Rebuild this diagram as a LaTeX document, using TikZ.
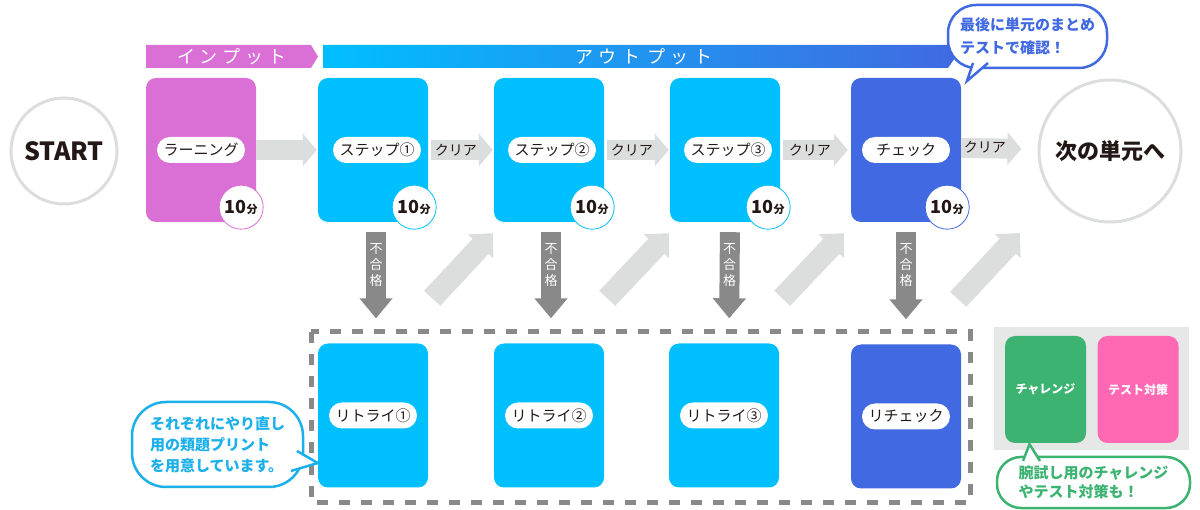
\documentclass[tikz,border=0pt]{standalone}
\usepackage{fontspec}
\setmainfont{Noto Sans CJK JP}
\usetikzlibrary{arrows.meta}

\definecolor{orchidc}{HTML}{DA70D6}
\definecolor{skyc}{HTML}{00BFFF}
\definecolor{royalc}{HTML}{4169E1}
\definecolor{greenc}{HTML}{3CB371}
\definecolor{pinkc}{HTML}{FF69B4}
\definecolor{lightg}{HTML}{DCDDDD}
\definecolor{darkg}{HTML}{898989}
\definecolor{panelg}{HTML}{E6E7E7}
\definecolor{ink}{HTML}{231815}
\definecolor{bullesky}{HTML}{1CB0EA}

\newcommand{\dixmin}{{\fontsize{18}{18}\selectfont\bfseries 10}{\fontsize{11}{11}\selectfont\bfseries 分}}

\tikzset{
  carte/.style={rounded corners=10pt, minimum width=110pt, minimum height=144pt, inner sep=0pt, fill=#1},
  pilule/.style={fill=white, rounded corners=13pt, minimum width=88pt, minimum height=26pt, inner sep=0pt, text=ink, font=\fontsize{15}{17}\selectfont},
  duree/.style={circle, fill=white, draw=#1, line width=0.8pt, minimum size=44pt, inner sep=0pt, text=ink},
  rond/.style={circle, draw=lightg, line width=3pt, fill=white, text=ink, inner sep=0pt},
  avance/.style={lightg, line width=20pt, -{Triangle[length=14pt,width=32pt]}},
  echec/.style={darkg, line width=20pt, -{Triangle[length=20pt,width=32pt]}, shorten <=10pt, shorten >=25pt},
  retour/.style={lightg, line width=22pt, -{Triangle[length=18pt,width=34pt]}},
  mention/.style={text=ink, inner sep=0pt, font=\fontsize{14}{16}\selectfont},
  refus/.style={text=white, inner sep=0pt, align=center, font=\fontsize{13}{16}\selectfont},
  bulle/.style={draw=#1, line width=2.5pt, fill=white, text=#1, align=left, inner sep=0pt},
  pointe/.style={fill=white, draw=#1, line width=2.5pt},
  bonus/.style={rounded corners=10pt, minimum width=81pt, minimum height=107pt, inner sep=0pt, fill=#1, text=white, font=\fontsize{12}{14}\selectfont\bfseries},
}

\begin{document}
\begin{tikzpicture}[x=1pt, y=-1pt]
    \useasboundingbox (0,0) rectangle (1200,510);

    % Bandeaux du haut
    \fill[orchidc] (146,45) -- (311,45) -- (318,56.5) -- (311,68) -- (146,68) -- cycle;
    \node[text=white, inner sep=0pt, font=\fontsize{18}{18}\selectfont] (lblin) at (232,56.5) {イ\kern5pt ン\kern5pt プ\kern5pt ッ\kern5pt ト};
    \shade[left color=skyc, right color=royalc] (323,45) -- (948,45) -- (956,56.5) -- (948,68) -- (323,68) -- cycle;
    \node[text=white, inner sep=0pt, font=\fontsize{18}{18}\selectfont] (lblout) at (644,56.5) {ア\kern6pt ウ\kern6pt ト\kern6pt プ\kern6pt ッ\kern6pt ト};

    % Depart et arrivee
    \node[rond, minimum size=106pt, font=\fontsize{25}{25}\selectfont\bfseries] (start) at (64,151) {START};
    \node[rond, minimum size=142pt, font=\fontsize{22}{22}\selectfont\bfseries] (nxt) at (1110,151) {次の単元へ};

    % Cartes de la ligne du haut
    \node[carte=orchidc] (learn) at (201,150) {};
    \node[pilule] (learnlbl) at (learn.center) {ラーニング};
    \node[duree=orchidc] (learnt) at ([shift={(-15,-15)}]learn.south east) {\dixmin};

    \node[carte=skyc] (s1) at (373,150) {};
    \node[pilule] (s1lbl) at ([xshift=4pt]s1.center) {ステップ①};
    \node[duree=skyc] (s1t) at ([shift={(-14,-15)}]s1.south east) {\dixmin};

    \node[carte=skyc] (s2) at (549,150) {};
    \node[pilule] (s2lbl) at ([xshift=3pt]s2.center) {ステップ②};
    \node[duree=skyc] (s2t) at ([shift={(-12,-15)}]s2.south east) {\dixmin};

    \node[carte=skyc] (s3) at (725,150) {};
    \node[pilule] (s3lbl) at ([xshift=3pt]s3.center) {ステップ③};
    \node[duree=skyc] (s3t) at ([shift={(-12,-15)}]s3.south east) {\dixmin};

    \node[carte=royalc] (chk) at (906,150) {};
    \node[pilule] (chklbl) at (chk.center) {チェック};
    \node[duree=royalc] (chkt) at ([shift={(-14,-15)}]chk.south east) {\dixmin};

    % Fleches d'avance
    \draw[avance, shorten >=1pt] (learn.east) -- (s1.west);
    \draw[avance, shorten <=3pt, shorten >=1pt] (s1.east) -- (s2.west) node[mention, pos=0.42] (c1) {クリア};
    \draw[avance, shorten <=3pt, shorten >=1pt] (s2.east) -- (s3.west) node[mention, pos=0.42] (c2) {クリア};
    \draw[avance, shorten <=3pt, shorten >=3pt] (s3.east) -- (chk.west) node[mention, pos=0.42] (c3) {クリア};
    \draw[avance, shorten >=16pt] ([yshift=2pt]chk.east) -- ([yshift=2pt]nxt.west) node[mention, pos=0.31, yshift=1pt] (c4) {クリア};

    % Cartes de rattrapage
    \draw[darkg, line width=5pt, dash pattern=on 11pt off 11pt] (311,332) rectangle (970,502);
    \node[carte=skyc] (r1) at (373,415.5) {};
    \node[pilule] (r1lbl) at (r1.center) {リトライ①};
    \node[carte=skyc] (r2) at (549,415.5) {};
    \node[pilule] (r2lbl) at (r2.center) {リトライ②};
    \node[carte=skyc] (r3) at (724,415.5) {};
    \node[pilule] (r3lbl) at (r3.center) {リトライ③};
    \node[carte=royalc] (rc) at (906,416.5) {};
    \node[pilule] (rclbl) at (rc.center) {リチェック};

    % Echecs et retours
    \draw[echec] ([xshift=3pt]s1.south) -- ([xshift=3pt]r1.north) node[refus, pos=0.35] (f1) {不\\合\\格};
    \draw[echec] ([xshift=2pt]s2.south) -- ([xshift=2pt]r2.north) node[refus, pos=0.35] (f2) {不\\合\\格};
    \draw[echec] ([xshift=5pt]s3.south) -- ([xshift=5pt]r3.north) node[refus, pos=0.35] (f3) {不\\合\\格};
    \draw[echec] (chk.south) -- (rc.north) node[refus, pos=0.35] (f4) {不\\合\\格};

    \draw[retour] ([shift={(4,-45)}]r1.north east) -- ([shift={(-1,11)}]s2.south west);
    \draw[retour] ([shift={(3,-45)}]r2.north east) -- ([shift={(-1,11)}]s3.south west);
    \draw[retour] ([shift={(3,-45)}]r3.north east) -- ([shift={(-7,11)}]chk.south west);
    \draw[retour] ([shift={(-3,-45)}]rc.north east) -- ([shift={(-90,82)}]nxt.center);

    % Bonus a droite
    \fill[panelg] (994,327) rectangle (1189,450);
    \node[bonus=greenc] (defi) at (1045.5,389.5) {チャレンジ};
    \node[bonus=pinkc] (exam) at (1138,389.5) {テスト対策};

    % Bulles
    \node[bulle=royalc, minimum width=159pt, minimum height=63pt, rounded corners=28pt, font=\fontsize{15}{23}\selectfont\bfseries] (tipfin) at (1027.5,36.5) {最後に単元のまとめ\\テストで確認！};
    \coordinate (tipfinA) at (973,63);
    \coordinate (tipfinB) at (988,63);
    \coordinate (tipfinP) at (967,81);
    \filldraw[pointe=royalc] (tipfinA) -- (tipfinP) -- (tipfinB);

    \node[bulle=bullesky, minimum width=171pt, minimum height=85pt, rounded corners=34pt, font=\fontsize{15}{21}\selectfont\bfseries] (tipretry) at (217.5,444.5) {それぞれにやり直し\\用の類題プリント\\を用意しています。};
    \coordinate (tipretryA) at (297,451);
    \coordinate (tipretryB) at (291,471);
    \filldraw[pointe=bullesky] (tipretryA) -- (r1.west |- 0,463) -- (tipretryB);

    \node[bulle=greenc, minimum width=193pt, minimum height=51pt, rounded corners=24pt, font=\fontsize{15}{19}\selectfont\bfseries] (tipdefi) at (1093.5,482.5) {腕試し用のチャレンジ\\やテスト対策も！};
    \coordinate (tipdefiA) at (1023,461);
    \coordinate (tipdefiB) at (1040,461);
    \filldraw[pointe=greenc] (tipdefiA) -- ([shift={(-16,1)}]defi.south) -- (tipdefiB);

\end{tikzpicture}
\end{document}
